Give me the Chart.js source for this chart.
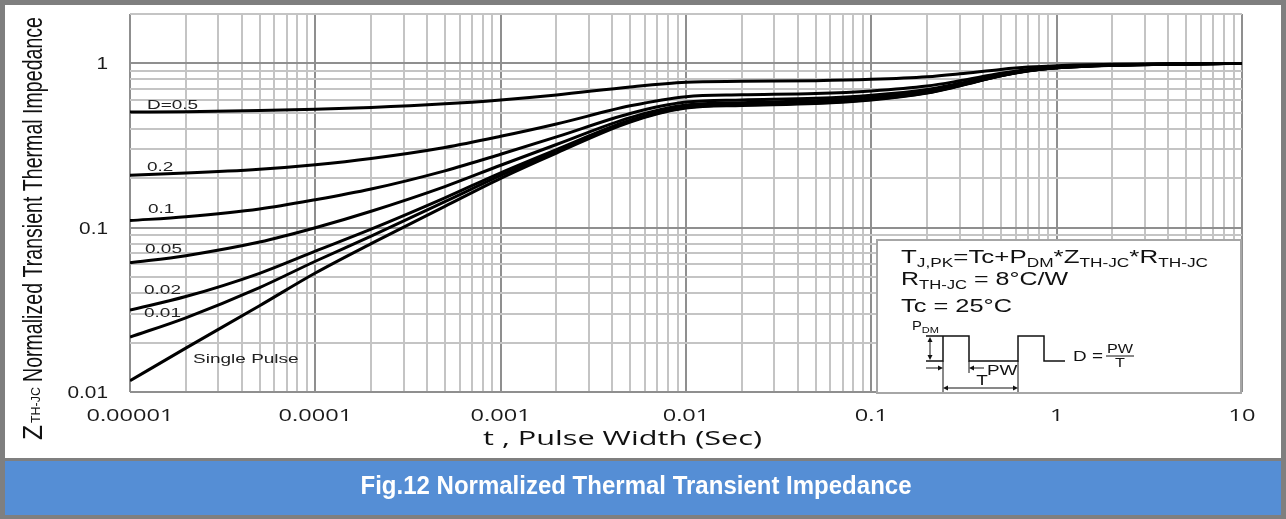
<!DOCTYPE html>
<html lang="en">
<head>
  <meta charset="UTF-8">
  <title>Fig.12 Normalized Thermal Transient Impedance</title>
  <script src="https://cdn.jsdelivr.net/npm/chart.js"></script>
  <style>
    html, body { margin: 0; padding: 0; }
    body {
      width: 1286px;
      height: 519px;
      background: #7f7f7f;
      position: relative;
      overflow: hidden;
    }
    .paper { position: absolute; left: 5px; top: 5px; width: 1276px; height: 453px; background: #fff; }
    .band { position: absolute; left: 5px; top: 461px; width: 1276px; height: 54px; background: #558ed5; }
    #zthChart { position: absolute; left: 0; top: 0; }
  </style>
</head>
<body>

  <div class="paper"></div>
  <div class="band"></div>
  <canvas id="zthChart" width="1286" height="519"></canvas>

  <script>
    // pulse width t (sec)
    const pulseWidth = [1e-5, 2e-5, 5e-5, 1e-4, 2e-4, 5e-4, 1e-3, 2e-3, 5e-3, 1e-2, 2e-2, 5e-2, 1e-1, 2e-1, 3e-1, 5e-1, 7e-1, 1, 2, 5, 10];

    // normalized Zth-jc, one list per duty cycle
    const zD05    = [0.506, 0.509, 0.517, 0.527, 0.54, 0.568, 0.60, 0.643, 0.72, 0.768, 0.778, 0.785, 0.80, 0.83, 0.865, 0.92, 0.95, 0.97, 0.988, 0.997, 1.0];
    const zD02    = [0.209, 0.215, 0.227, 0.242, 0.264, 0.308, 0.36, 0.428, 0.552, 0.628, 0.644, 0.656, 0.68, 0.728, 0.784, 0.872, 0.92, 0.952, 0.98, 0.994, 1.0];
    const zD01    = [0.1105, 0.1167, 0.130, 0.148, 0.172, 0.222, 0.28, 0.357, 0.496, 0.582, 0.60, 0.613, 0.64, 0.694, 0.757, 0.856, 0.91, 0.946, 0.978, 0.994, 1.0];
    const zD005   = [0.0611, 0.0676, 0.0818, 0.100, 0.126, 0.178, 0.24, 0.321, 0.468, 0.558, 0.577, 0.592, 0.62, 0.677, 0.744, 0.848, 0.905, 0.943, 0.976, 0.993, 1.0];
    const zD002   = [0.0315, 0.0381, 0.0528, 0.072, 0.098, 0.152, 0.216, 0.299, 0.451, 0.544, 0.564, 0.579, 0.608, 0.667, 0.735, 0.843, 0.902, 0.941, 0.976, 0.993, 1.0];
    const zD001   = [0.0216, 0.0283, 0.0432, 0.0625, 0.089, 0.144, 0.208, 0.292, 0.446, 0.54, 0.56, 0.574, 0.604, 0.663, 0.733, 0.842, 0.901, 0.941, 0.975, 0.993, 1.0];
    const zSingle = [0.0117, 0.0185, 0.0335, 0.053, 0.08, 0.135, 0.2, 0.285, 0.44, 0.535, 0.555, 0.57, 0.6, 0.66, 0.73, 0.84, 0.90, 0.94, 0.975, 0.993, 1.0];

    // curve labels and where they sit (t, Zth at text baseline)
    const curveLabels = ["D=0.5", "0.2", "0.1", "0.05", "0.02", "0.01", "Single Pulse"];
    const labelT = [1.235e-5, 1.235e-5, 1.25e-5, 1.205e-5, 1.19e-5, 1.19e-5, 2.19e-5];
    const labelZ = [0.525, 0.221, 0.123, 0.0703, 0.0394, 0.0287, 0.0151];

    // tick labels
    const xTickValues = [1e-5, 1e-4, 1e-3, 1e-2, 1e-1, 1, 10];
    const xTickLabels = ["0.00001", "0.0001", "0.001", "0.01", "0.1", "1", "10"];
    const yTickValues = [0.01, 0.1, 1];
    const yTickLabels = ["0.01", "0.1", "1"];

    const series = [zD05, zD02, zD01, zD005, zD002, zD001, zSingle];

    const isDecade = v => Math.abs(Math.log10(v) - Math.round(Math.log10(v))) < 1e-6;
    const isWhole = v => {
      const m = v / Math.pow(10, Math.floor(Math.log10(v) + 1e-9));
      return Math.abs(m - Math.round(m)) < 1e-6;
    };

    // text squeezed/stretched horizontally by sx
    function sText(ctx, str, x, y, font, sx, align, color) {
      ctx.save();
      ctx.font = font;
      ctx.fillStyle = color || "#1a1a1a";
      ctx.textBaseline = "alphabetic";
      ctx.textAlign = "left";
      const w = ctx.measureText(str).width * sx;
      const x0 = align === "center" ? x - w / 2 : align === "right" ? x - w : x;
      ctx.translate(x0, y);
      ctx.scale(sx, 1);
      ctx.fillText(str, 0, 0);
      ctx.restore();
      return w;
    }

    // line with subscripts, fitted to a width
    function richLine(ctx, parts, x, y, targetW, family) {
      let raw = 0;
      parts.forEach(p => { ctx.font = p[1] + "px " + family; raw += ctx.measureText(p[0]).width; });
      const sx = targetW / raw;
      let cx = x;
      parts.forEach(p => { cx += sText(ctx, p[0], cx, y + (p[2] || 0), p[1] + "px " + family, sx, "left", "#111"); });
    }

    function arrowHead(ctx, x, y, dir) {
      // dir: 'l','r','u','d' = way the tip points
      const s = 5, h = 2.5;
      ctx.beginPath();
      if (dir === "r") { ctx.moveTo(x, y); ctx.lineTo(x - s, y - h); ctx.lineTo(x - s, y + h); }
      if (dir === "l") { ctx.moveTo(x, y); ctx.lineTo(x + s, y - h); ctx.lineTo(x + s, y + h); }
      if (dir === "u") { ctx.moveTo(x, y); ctx.lineTo(x - h, y + s); ctx.lineTo(x + h, y + s); }
      if (dir === "d") { ctx.moveTo(x, y); ctx.lineTo(x - h, y - s); ctx.lineTo(x + h, y - s); }
      ctx.closePath();
      ctx.fill();
    }

    const ARIAL = '"Liberation Sans", Arial, sans-serif';
    const OPEN = '"Open Sans", "Liberation Sans", sans-serif';

    const decorations = {
      id: "decorations",
      afterDraw(chart) {
        const { ctx, scales: { x, y } } = chart;

        // tick labels
        xTickValues.forEach((v, i) => {
          sText(ctx, xTickLabels[i], x.getPixelForValue(v), 421, "16.5px " + OPEN, 1.43, "center");
        });
        yTickValues.forEach((v, i) => {
          sText(ctx, yTickLabels[i], 108, y.getPixelForValue(v) + 6, "16px " + ARIAL, 1.3, "right");
        });

        // curve labels
        curveLabels.forEach((s, i) => {
          sText(ctx, s, x.getPixelForValue(labelT[i]), y.getPixelForValue(labelZ[i]), "13px " + ARIAL, 1.46, "left", "#222");
        });

        // x title
        ctx.font = "20px " + OPEN;
        const xt = "t , Pulse Width (Sec)";
        sText(ctx, xt, 483, 445, "20px " + OPEN, 279 / ctx.measureText(xt).width, "left", "#111");

        // y title, rotated
        ctx.save();
        ctx.translate(42, 440);
        ctx.rotate(-Math.PI / 2);
        ctx.fillStyle = "#111";
        ctx.textBaseline = "alphabetic";
        const yParts = [["Z", "20px", 0, 15, 1.35], ["TH-JC", "12px", -2, 36, 1.0], ["Normalized Transient Thermal Impedance", "19.3px", 0, 365, 1.45]];
        const starts = [0, 17, 58];
        yParts.forEach((p, i) => {
          ctx.save();
          ctx.font = p[1] + " " + ARIAL;
          const w = ctx.measureText(p[0]).width;
          ctx.translate(starts[i], p[2]);
          ctx.scale(p[3] / w, p[4]);
          ctx.fillText(p[0], 0, 0);
          ctx.restore();
        });
        ctx.restore();

        // note box
        const bx = 877, by = 240, bw = 364, bh = 153;
        ctx.save();
        ctx.fillStyle = "#fff";
        ctx.fillRect(bx, by, bw, bh);
        ctx.strokeStyle = "#a6a6a6";
        ctx.lineWidth = 2;
        ctx.strokeRect(bx, by, bw, bh);
        ctx.restore();

        richLine(ctx, [["T", 18], ["J,PK", 12, 4], ["=Tc+P", 18], ["DM", 12, 4], ["*Z", 18], ["TH-JC", 12, 4], ["*R", 18], ["TH-JC", 12, 4]], 901, 263, 307, ARIAL);
        richLine(ctx, [["R", 18], ["TH-JC", 12, 4], [" = 8°C/W", 18]], 901, 285, 167, ARIAL);
        richLine(ctx, [["Tc = 25°C", 18]], 901, 312, 111, ARIAL);
        richLine(ctx, [["P", 12], ["DM", 9, 3]], 912, 330, 27, ARIAL);

        // pulse train sketch
        ctx.save();
        ctx.strokeStyle = "#111";
        ctx.fillStyle = "#111";
        ctx.lineWidth = 1.5;
        ctx.beginPath();
        ctx.moveTo(926, 361); ctx.lineTo(943, 361); ctx.lineTo(943, 336); ctx.lineTo(969, 336);
        ctx.lineTo(969, 361); ctx.lineTo(1018, 361); ctx.lineTo(1018, 336); ctx.lineTo(1044, 336);
        ctx.lineTo(1044, 361); ctx.lineTo(1065, 361);
        ctx.moveTo(926, 336); ctx.lineTo(943, 336);
        ctx.stroke();

        ctx.lineWidth = 1;
        ctx.beginPath();
        ctx.moveTo(930, 342); ctx.lineTo(930, 355);
        ctx.moveTo(943, 361); ctx.lineTo(943, 392);
        ctx.moveTo(969, 361); ctx.lineTo(969, 373);
        ctx.moveTo(1018, 361); ctx.lineTo(1018, 392);
        ctx.moveTo(926, 368); ctx.lineTo(938, 368);
        ctx.moveTo(974, 368); ctx.lineTo(984, 368);
        ctx.moveTo(948, 388); ctx.lineTo(1013, 388);
        ctx.stroke();
        arrowHead(ctx, 930, 337, "u");
        arrowHead(ctx, 930, 360, "d");
        arrowHead(ctx, 943, 368, "r");
        arrowHead(ctx, 969, 368, "l");
        arrowHead(ctx, 943, 388, "l");
        arrowHead(ctx, 1018, 388, "r");

        ctx.beginPath();
        ctx.moveTo(1106, 356); ctx.lineTo(1134, 356);
        ctx.stroke();
        ctx.restore();

        sText(ctx, "PW", 987, 375, "14px " + ARIAL, 1.35, "left", "#111");
        sText(ctx, "T", 982, 385, "14px " + ARIAL, 1.35, "center", "#111");
        sText(ctx, "D =", 1073, 361, "14px " + ARIAL, 1.35, "left", "#111");
        sText(ctx, "PW", 1120, 353, "12px " + ARIAL, 1.35, "center", "#111");
        sText(ctx, "T", 1120, 367, "12px " + ARIAL, 1.35, "center", "#111");

        // caption in the blue band
        const cap = "Fig.12 Normalized Thermal Transient Impedance";
        ctx.font = "bold 25px " + ARIAL;
        sText(ctx, cap, 636, 494, "bold 25px " + ARIAL, 551 / ctx.measureText(cap).width, "center", "#fff");
      }
    };

    const gridColor = c => (c.tick && isDecade(c.tick.value)) ? "#8f8f8f" : "#c4c4c4";

    new Chart(document.getElementById("zthChart"), {
      type: "line",
      data: {
        datasets: series.map(arr => ({
          data: pulseWidth.map((t, i) => ({ x: t, y: arr[i] })),
          borderColor: "#000",
          borderWidth: 3,
          pointRadius: 0,
          fill: false,
          cubicInterpolationMode: "monotone"
        }))
      },
      options: {
        responsive: false,
        devicePixelRatio: 1,
        animation: false,
        layout: { padding: { top: 14, right: 44, left: 0, bottom: 0 } },
        plugins: { legend: { display: false }, tooltip: { enabled: false } },
        scales: {
          x: {
            type: "logarithmic",
            min: 1e-5,
            max: 10,
            ticks: { display: false, autoSkip: false },
            grid: { color: gridColor, lineWidth: 2, drawTicks: false },
            border: { display: false },
            afterBuildTicks: s => { s.ticks = s.ticks.filter(t => isWhole(t.value)); },
            afterFit: s => { s.height = 127; }
          },
          y: {
            type: "logarithmic",
            min: 0.01,
            max: 2,
            ticks: { display: false, autoSkip: false },
            grid: { color: gridColor, lineWidth: 2, drawTicks: false },
            border: { display: false },
            afterBuildTicks: s => { s.ticks = s.ticks.filter(t => isWhole(t.value)); },
            afterFit: s => { s.width = 130; }
          }
        }
      },
      plugins: [decorations]
    });
  </script>

</body>
</html>
